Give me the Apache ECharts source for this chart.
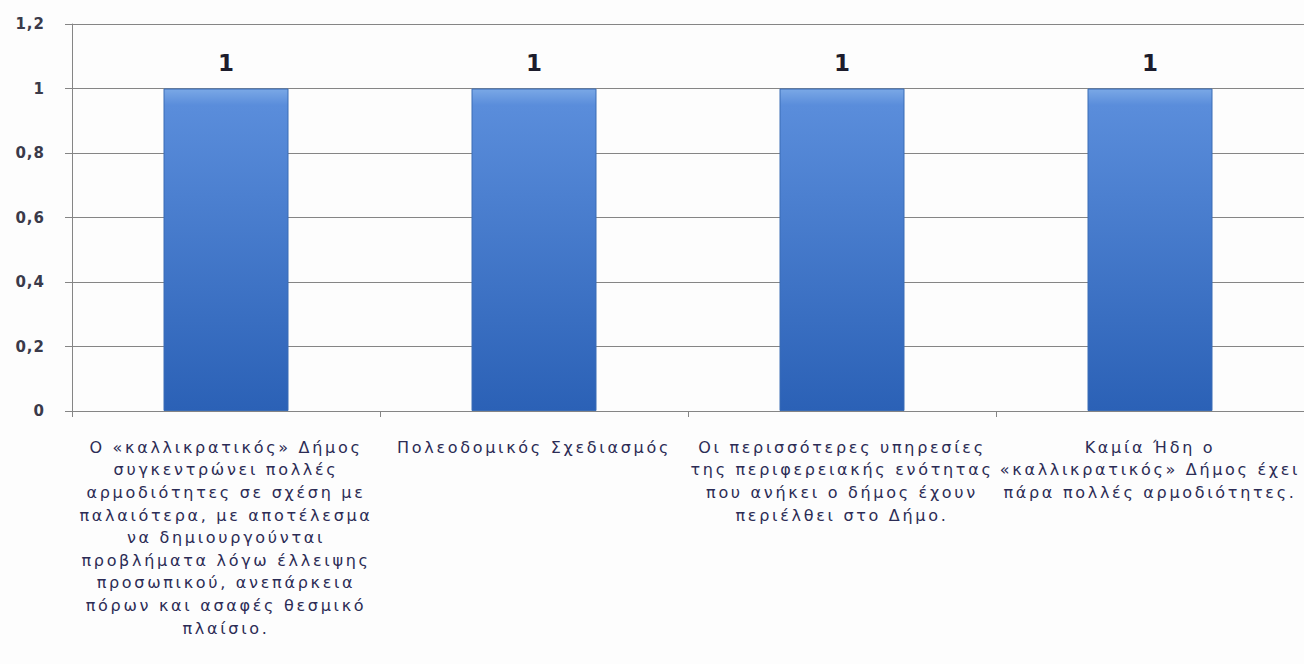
<!DOCTYPE html>
<html>
<head>
<meta charset="utf-8">
<script src="https://cdn.jsdelivr.net/npm/echarts@6/dist/echarts.min.js"></script>
<style>
html,body{margin:0;padding:0;background:#fdfdfd;}
#chart{width:1304px;height:664px;}
#chart text[fill="#2c2c55"]{letter-spacing:2.7px;}
#chart text[fill="#3a3a4a"]{letter-spacing:1px;}
</style>
</head>
<body>
<div id="chart"></div>
<script>
const categories = [
  'Ο «καλλικρατικός» Δήμος\nσυγκεντρώνει πολλές\nαρμοδιότητες σε σχέση με\nπαλαιότερα, με αποτέλεσμα\nνα δημιουργούνται\nπροβλήματα λόγω έλλειψης\nπροσωπικού, ανεπάρκεια\nπόρων και ασαφές θεσμικό\nπλαίσιο.',
  'Πολεοδομικός Σχεδιασμός',
  'Οι περισσότερες υπηρεσίες\nτης περιφερειακής ενότητας\nπου ανήκει ο δήμος έχουν\nπεριέλθει στο Δήμο.',
  'Καμία Ήδη ο\n«καλλικρατικός» Δήμος έχει\nπάρα πολλές αρμοδιότητες.'
];
const values = [1, 1, 1, 1];
const yTicks = { min: 0, max: 1.2, interval: 0.2 };

const chart = echarts.init(document.getElementById('chart'), null, { renderer: 'svg' });
chart.setOption({
  backgroundColor: '#fdfdfd',
  animation: false,
  grid: { left: 72, right: -6, top: 24, bottom: 253, containLabel: false },
  xAxis: {
    type: 'category',
    data: categories,
    axisLine: { lineStyle: { color: '#858585', width: 1 } },
    axisTick: { show: true, length: 6, lineStyle: { color: '#858585' } },
    axisLabel: {
      interval: 0,
      margin: 25,
      fontFamily: 'DejaVu Sans',
      fontSize: 16,
      lineHeight: 22.6,
      color: '#2c2c55',
      align: 'center'
    }
  },
  yAxis: {
    type: 'value',
    min: yTicks.min,
    max: yTicks.max,
    interval: yTicks.interval,
    axisLine: { show: true, lineStyle: { color: '#858585', width: 1 } },
    axisTick: { show: true, length: 7, lineStyle: { color: '#858585' } },
    splitLine: { show: true, lineStyle: { color: '#858585', width: 1 } },
    axisLabel: {
      margin: 27,
      fontFamily: 'DejaVu Sans',
      fontSize: 15,
      fontWeight: 'bold',
      color: '#3a3a4a',
      formatter: v => String(Math.round(v * 10) / 10).replace('.', ',')
    }
  },
  series: [{
    type: 'bar',
    data: values,
    barWidth: 125,
    itemStyle: {
      color: new echarts.graphic.LinearGradient(0, 0, 0, 1, [
        { offset: 0, color: '#7aa8e6' },
        { offset: 0.05, color: '#5a8ddb' },
        { offset: 1, color: '#2b61b6' }
      ]),
      borderColor: '#3a6cb5',
      borderWidth: 1
    },
    label: {
      show: true,
      position: 'top',
      distance: 14,
      fontFamily: 'DejaVu Sans',
      fontSize: 23,
      fontWeight: 'bold',
      color: '#1c1c2c'
    }
  }]
});
</script>
</body>
</html>
